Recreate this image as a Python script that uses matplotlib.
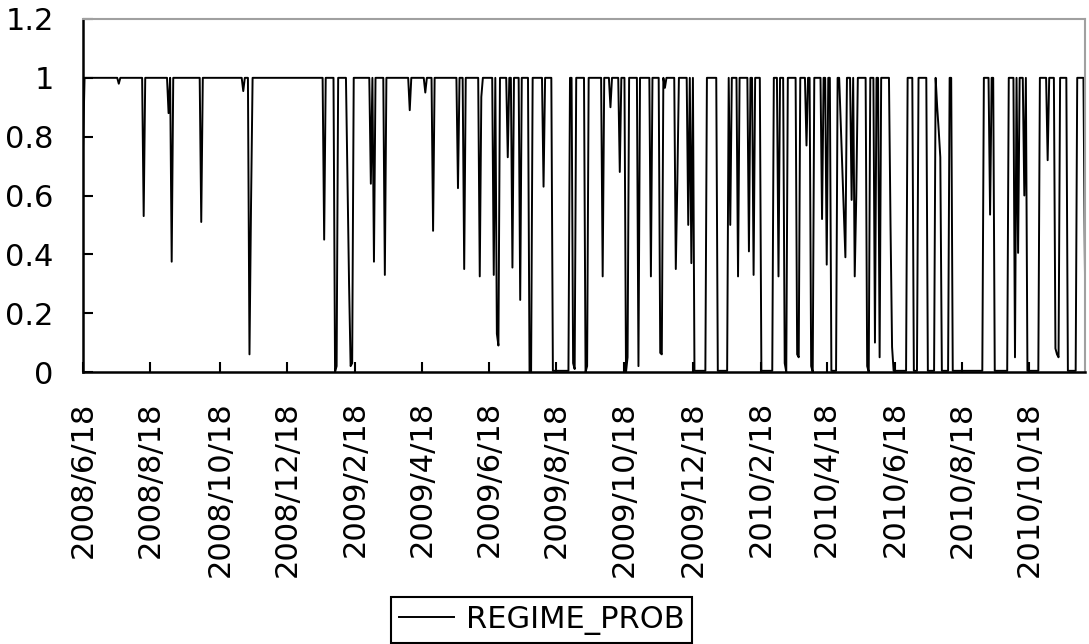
import matplotlib
matplotlib.use('Agg')
import matplotlib.pyplot as plt
import numpy as np
import pandas as pd

# trading days from 2008/6/18
n_days = 645
start_date = '2008-06-18'

tick_dates = ['2008-06-18', '2008-08-18', '2008-10-18', '2008-12-18',
              '2009-02-18', '2009-04-18', '2009-06-18', '2009-08-18',
              '2009-10-18', '2009-12-18', '2010-02-18', '2010-04-18',
              '2010-06-18', '2010-08-18', '2010-10-18']

# single days where REGIME_PROB leaves 1 (day number, value)
dip_day = [0, 23, 39, 55, 57, 76, 103, 107, 108, 155, 162, 163, 170, 171, 172, 173,
           185, 187, 194, 210, 220, 225, 241, 245, 255, 256, 264, 266, 267, 273,
           276, 281, 287, 288, 296, 315, 316, 323, 324, 334, 339, 345, 349, 350,
           357, 365, 371, 372, 374, 381, 382, 389, 391, 416, 421, 428, 431, 447,
           451, 452, 459, 460, 465, 468, 469, 475, 478, 487, 488, 489, 490, 494,
           496, 497, 504, 505, 509, 512, 519, 520, 549, 550, 551, 583, 599, 601,
           605, 620, 625, 626, 627, 644]
dip_value = [0.76, 0.98, 0.53, 0.88, 0.375, 0.51, 0.955, 0.06, 0.57, 0.45, 0.0, 0.02,
             0.65, 0.3, 0.02, 0.03, 0.64, 0.375, 0.33, 0.89, 0.95, 0.48, 0.625, 0.35,
             0.325, 0.935, 0.33, 0.13, 0.09, 0.73, 0.355, 0.245, 0.0, 0.0, 0.63,
             0.03, 0.01, 0.0, 0.02, 0.325, 0.9, 0.68, 0.0, 0.05, 0.02, 0.325, 0.065,
             0.06, 0.966, 0.35, 0.65, 0.5, 0.37, 0.5, 0.325, 0.41, 0.33, 0.325,
             0.03, 0.0, 0.06, 0.05, 0.77, 0.02, 0.0, 0.52, 0.365, 0.85, 0.7, 0.55,
             0.39, 0.585, 0.325, 0.6, 0.02, 0.0, 0.1, 0.05, 0.5, 0.085, 0.9, 0.82,
             0.73, 0.535, 0.05, 0.405, 0.6, 0.72, 0.08, 0.06, 0.05, 0.32]

# stretches spent in the other regime (first day, last day)
low_start = [302, 393, 408, 436, 481, 521, 534, 543, 552, 559, 586, 607, 633]
low_end = [312, 400, 414, 443, 484, 529, 536, 547, 556, 578, 594, 614, 638]
low_level = 0.004

dates = pd.bdate_range(start_date, periods=n_days)
prob = np.ones(n_days)
for a, b in zip(low_start, low_end):
    prob[a:b + 1] = low_level
for d, v in zip(dip_day, dip_value):
    prob[d] = v

tick_pos = dates.searchsorted(pd.to_datetime(tick_dates))
tick_labels = [f'{t.year}/{t.month}/{t.day}' for t in pd.to_datetime(tick_dates)]

plt.rcParams['font.family'] = ['DejaVu Sans']

fig = plt.figure(figsize=(10.89, 6.44), dpi=100)
ax = fig.add_axes([83 / 1089, 1 - 372 / 644, 1002 / 1089, 353 / 644])

ax.plot(np.arange(n_days), prob, color='black', lw=1.4, label='REGIME_PROB')

ax.set_xlim(0, n_days - 1)
ax.set_ylim(0, 1.2)
ax.set_yticks([0, 0.2, 0.4, 0.6, 0.8, 1.0, 1.2])
ax.set_yticklabels(['0', '0.2', '0.4', '0.6', '0.8', '1', '1.2'])
ax.set_xticks(tick_pos)
ax.set_xticklabels(tick_labels, rotation=90, ha='center', va='top')

ax.tick_params(direction='in', length=7, width=1.5, labelsize=22, pad=21)
for s in ['left', 'bottom']:
    ax.spines[s].set_linewidth(1.8)
    ax.spines[s].set_color('black')
for s in ['top', 'right']:
    ax.spines[s].set_linewidth(1.5)
    ax.spines[s].set_color('#a0a0a0')

fig.legend(loc='center', bbox_to_anchor=(541.5 / 1089, 1 - 620 / 644),
           fontsize=22, frameon=True, fancybox=False, edgecolor='black',
           framealpha=1, handlelength=1.8, handletextpad=0.4,
           borderpad=0.25, borderaxespad=0)
fig.legends[0].get_frame().set_linewidth(1.5)

fig.savefig('out.png', dpi=100)
